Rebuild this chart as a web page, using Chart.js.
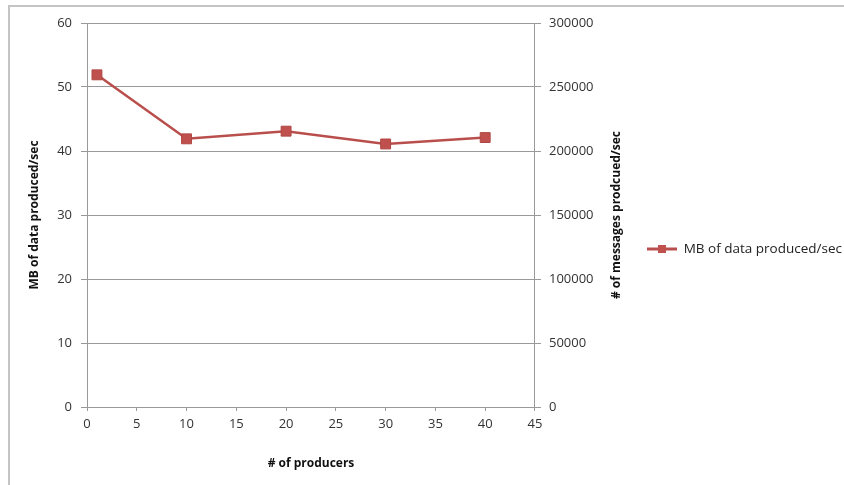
<!DOCTYPE html>
<html>
<head>
<meta charset="utf-8">
<script src="https://cdn.jsdelivr.net/npm/chart.js@4.4.1/dist/chart.umd.min.js"></script>
<style>
  html, body { margin: 0; padding: 0; background: #fff; }
  #wrap { position: relative; width: 844px; height: 485px; }
  #frame { position: absolute; left: 8px; top: 5px; right: 0; bottom: 0;
           border-top: 2px solid #c4c4c4; border-left: 2px solid #c4c4c4; pointer-events: none; }
</style>
</head>
<body>
<div id="wrap">
  <canvas id="chart" width="844" height="485"></canvas>
  <div id="frame"></div>
</div>
<script>
// Data
const producers  = [1, 10, 20, 30, 40];
const mbPerSec   = [51.9, 41.9, 43.1, 41.1, 42.1];
const xTicks     = [0, 5, 10, 15, 20, 25, 30, 35, 40, 45];
const leftTicks  = [0, 10, 20, 30, 40, 50, 60];
const rightTicks = [0, 50000, 100000, 150000, 200000, 250000, 300000];

const seriesName = "MB of data produced/sec";
const xTitle = "# of producers";
const leftTitle = "MB of data produced/sec";
const rightTitle = "# of messages prodcued/sec";

const lineColor = "#b94f4c";
const gridColor = "#999999";
const fontFamily = "'Open Sans', sans-serif";

// legend icon: line with a square in the middle
function makeLegendIcon(){
	var c = document.createElement("canvas");
	c.width = 44; c.height = 12;
	var g = c.getContext("2d");
	g.strokeStyle = lineColor; g.lineWidth = 3;
	g.beginPath(); g.moveTo(14, 6); g.lineTo(44, 6); g.stroke();
	g.fillStyle = "#c0504d"; g.fillRect(25, 2, 8, 8);
	return c;
}

function useTicks(list){
	return function(scale){ scale.ticks = list.map(v => ({value: v})); };
}

// right axis title reads bottom-to-top like the left one
const rightTitlePlugin = {
	id: "rightTitle",
	afterDraw(chart){
		var s = chart.scales.y1, ctx = chart.ctx;
		var area = chart.chartArea;
		ctx.save();
		ctx.translate(s.left + 82, (area.top + area.bottom) / 2);
		ctx.rotate(-Math.PI / 2);
		ctx.font = "bold 12px " + fontFamily;
		ctx.fillStyle = "#111";
		ctx.textAlign = "center";
		ctx.textBaseline = "middle";
		ctx.fillText(rightTitle, 0, 0);
		ctx.restore();
	}
};

var data = {
	datasets: [{
		label: seriesName,
		data: producers.map((x, i) => ({x: x, y: mbPerSec[i]})),
		borderColor: lineColor,
		backgroundColor: "#c0504d",
		pointBorderColor: "#b04744",
		borderWidth: 2.5,
		pointStyle: "rect",
		pointRadius: 7,
		pointBorderWidth: 1,
		tension: 0,
		yAxisID: "y"
	}]
};

var tickFont = {family: fontFamily, size: 13};
var titleFont = {family: fontFamily, size: 12, weight: "bold"};
var plain = v => String(v);

var config = {
	type: "line",
	data: data,
	plugins: [rightTitlePlugin],
	options: {
		responsive: false,
		animation: false,
		layout: {padding: {top: 23, bottom: 10, left: 12, right: -8}},
		plugins: {
			tooltip: {enabled: false},
			legend: {
				position: "right",
				maxWidth: 300,
				labels: {
					usePointStyle: true,
					pointStyle: makeLegendIcon(),
					pointStyleWidth: 44,
					boxHeight: 12,
					color: "#222",
					font: {family: fontFamily, size: 13.5}
				}
			}
		},
		scales: {
			x: {
				type: "linear",
				min: 0, max: 45,
				afterBuildTicks: useTicks(xTicks),
				afterFit: s => { s.height = 68; },
				grid: {drawOnChartArea: false, color: gridColor, tickLength: 4},
				border: {color: gridColor},
				ticks: {color: "#333", font: tickFont, padding: 5, maxRotation: 0, callback: plain},
				title: {display: true, text: xTitle, color: "#111", font: titleFont, padding: {top: 0, bottom: 4}}
			},
			y: {
				position: "left",
				min: 0, max: 60,
				afterBuildTicks: useTicks(leftTicks),
				afterFit: s => { s.width = 75; },
				grid: {color: gridColor, tickLength: 6},
				border: {color: gridColor},
				ticks: {color: "#333", font: tickFont, padding: 9, callback: plain},
				title: {display: true, text: leftTitle, color: "#111", font: titleFont, padding: {top: 15, bottom: 0}}
			},
			y1: {
				position: "right",
				min: 0, max: 300000,
				afterBuildTicks: useTicks(rightTicks),
				afterFit: s => { s.width = 88; },
				grid: {drawOnChartArea: false, color: gridColor, tickLength: 6},
				border: {color: gridColor},
				ticks: {color: "#333", font: tickFont, padding: 8, callback: plain}
			}
		}
	}
};

var myChart = new Chart(document.getElementById("chart"), config);
</script>
</body>
</html>
